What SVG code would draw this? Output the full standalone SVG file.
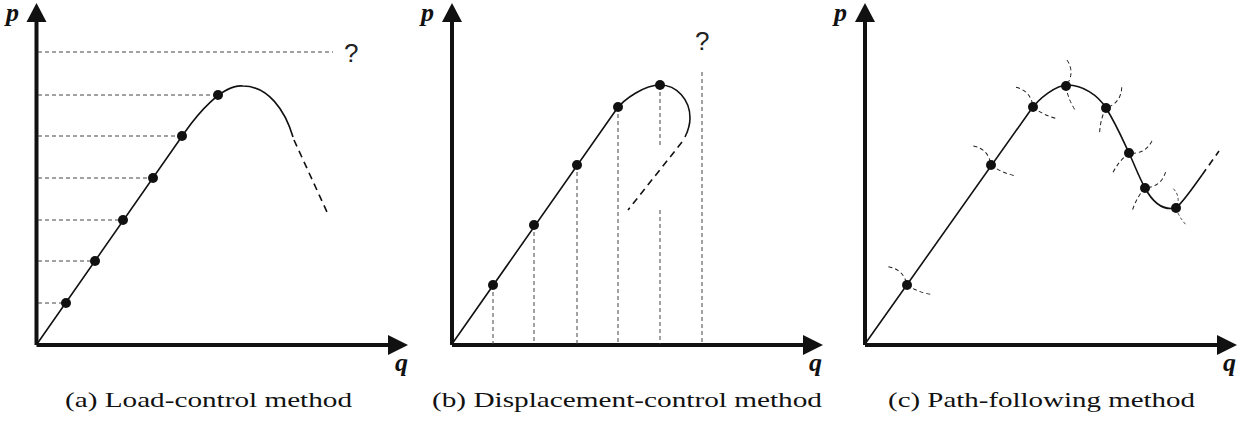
<svg xmlns="http://www.w3.org/2000/svg" xmlns:xlink="http://www.w3.org/1999/xlink" width="1255" height="432" viewBox="0 0 1255 432">
<style>
.axis{stroke:#111;stroke-width:4;fill:none}
.head{fill:#111}
.curve{stroke:#111;stroke-width:1.6;fill:none}
.ext{stroke:#111;stroke-width:1.6;fill:none;stroke-dasharray:7 5}
.guide{stroke:#444;stroke-width:1;fill:none;stroke-dasharray:4 3}
.arc{stroke:#222;stroke-width:1;fill:none;stroke-dasharray:4 3}
.dot{fill:#111}
.lbl{font-family:'Liberation Serif',serif;font-weight:bold;font-style:italic;font-size:26px;fill:#111}
.q{font-family:'Liberation Sans',sans-serif;font-size:26px;fill:#222}
.cap{font-family:'Liberation Serif',serif;font-size:21px;fill:#111}
</style>
<defs>
<path id="mk" d="M 1,-26 Q 9.5,-13 0,0 Q 1.5,12 9,24"/>
</defs>

<g id="panel-a">
  <g id="axes-a">
    <path class="axis" d="M 36.5,345 V 20 M 36.5,345 H 390"/>
    <polygon class="head" points="36.5,3 26.5,22 46.5,22"/>
    <polygon class="head" points="408,345 388,335 388,355"/>
    <text class="lbl" x="6" y="21">p</text>
    <text class="lbl" x="395" y="371">q</text>
  </g>
  <g id="guides-a">
    <path class="guide" d="M 38,303 H 66 M 38,261 H 95 M 38,220 H 123 M 38,178 H 153 M 38,136 H 182 M 38,95 H 218 M 38,52 H 333"/>
    <text class="q" x="344" y="62">?</text>
  </g>
  <g id="curve-a">
    <path class="curve" d="M 37,344 L 185,132 C 197,115 222,84 243,86 C 268,86 285,110 293,137"/>
    <path class="ext" d="M 294,140 L 327,212"/>
  </g>
  <g id="dots-a">
    <circle class="dot" cx="66" cy="303" r="5"/>
    <circle class="dot" cx="95" cy="261" r="5"/>
    <circle class="dot" cx="123" cy="220" r="5"/>
    <circle class="dot" cx="153" cy="178" r="5"/>
    <circle class="dot" cx="182" cy="136" r="5"/>
    <circle class="dot" cx="218" cy="95" r="5"/>
  </g>
  <text class="cap" x="65" y="407" textLength="287" lengthAdjust="spacingAndGlyphs">(a) Load-control method</text>
</g>

<g id="panel-b">
  <g id="axes-b">
    <path class="axis" d="M 452,345 V 20 M 452,345 H 805"/>
    <polygon class="head" points="452,3 442,22 462,22"/>
    <polygon class="head" points="823,345 803,335 803,355"/>
    <text class="lbl" x="421" y="21">p</text>
    <text class="lbl" x="809" y="371">q</text>
  </g>
  <g id="guides-b">
    <path class="guide" d="M 493,285 V 344 M 534,225 V 344 M 577,165 V 344 M 618,107 V 344 M 660,85 V 147 M 660,210 V 344 M 702,72 V 344"/>
    <text class="q" x="695" y="50">?</text>
  </g>
  <g id="curve-b">
    <path class="curve" d="M 452,344 L 616,110 C 624,98.5 645,85 660,85 C 677,85 690,100 690,118 C 690,125 688,131 685,137"/>
    <path class="ext" d="M 682,142 L 628,210"/>
  </g>
  <g id="dots-b">
    <circle class="dot" cx="493" cy="285" r="5"/>
    <circle class="dot" cx="534" cy="225" r="5"/>
    <circle class="dot" cx="577" cy="165" r="5"/>
    <circle class="dot" cx="618" cy="107" r="5"/>
    <circle class="dot" cx="660" cy="85" r="5"/>
  </g>
  <text class="cap" x="432" y="407" textLength="390" lengthAdjust="spacingAndGlyphs">(b) Displacement-control method</text>
</g>

<g id="panel-c">
  <g id="axes-c">
    <path class="axis" d="M 865,345 V 20 M 865,345 H 1219"/>
    <polygon class="head" points="865,3 855,22 875,22"/>
    <polygon class="head" points="1237,345 1217,335 1217,355"/>
    <text class="lbl" x="834" y="21">p</text>
    <text class="lbl" x="1223" y="371">q</text>
  </g>
  <g id="arcs-c">
    <use xlink:href="#mk" class="arc" transform="translate(907,285) rotate(-48)"/>
    <use xlink:href="#mk" class="arc" transform="translate(991,165) rotate(-45)"/>
    <use xlink:href="#mk" class="arc" transform="translate(1033,107) rotate(-43)"/>
    <use xlink:href="#mk" class="arc" transform="translate(1066,86)"/>
    <use xlink:href="#mk" class="arc" transform="translate(1106,108) rotate(35)"/>
    <use xlink:href="#mk" class="arc" transform="translate(1129,153) rotate(60)"/>
    <use xlink:href="#mk" class="arc" transform="translate(1145,188) rotate(50)"/>
    <use xlink:href="#mk" class="arc" transform="translate(1176,208) rotate(-10) scale(0.75)"/>
  </g>
  <g id="curve-c">
    <path class="curve" d="M 865,344 L 1030,111 C 1039,98 1056,85 1068,85 C 1082,85 1098,95 1106,108 C 1116,124 1122,138 1129,153 C 1135,166 1139,177 1145,188 C 1152,201 1162,211 1176,208 C 1184,201 1192,189 1202,175"/>
    <path class="ext" d="M 1202,175 L 1219,151"/>
  </g>
  <g id="dots-c">
    <circle class="dot" cx="907" cy="285" r="5"/>
    <circle class="dot" cx="991" cy="165" r="5"/>
    <circle class="dot" cx="1033" cy="107" r="5"/>
    <circle class="dot" cx="1066" cy="86" r="5"/>
    <circle class="dot" cx="1106" cy="108" r="5"/>
    <circle class="dot" cx="1129" cy="153" r="5"/>
    <circle class="dot" cx="1145" cy="188" r="5"/>
    <circle class="dot" cx="1176" cy="208" r="5"/>
  </g>
  <text class="cap" x="888" y="407" textLength="307" lengthAdjust="spacingAndGlyphs">(c) Path-following method</text>
</g>
</svg>
